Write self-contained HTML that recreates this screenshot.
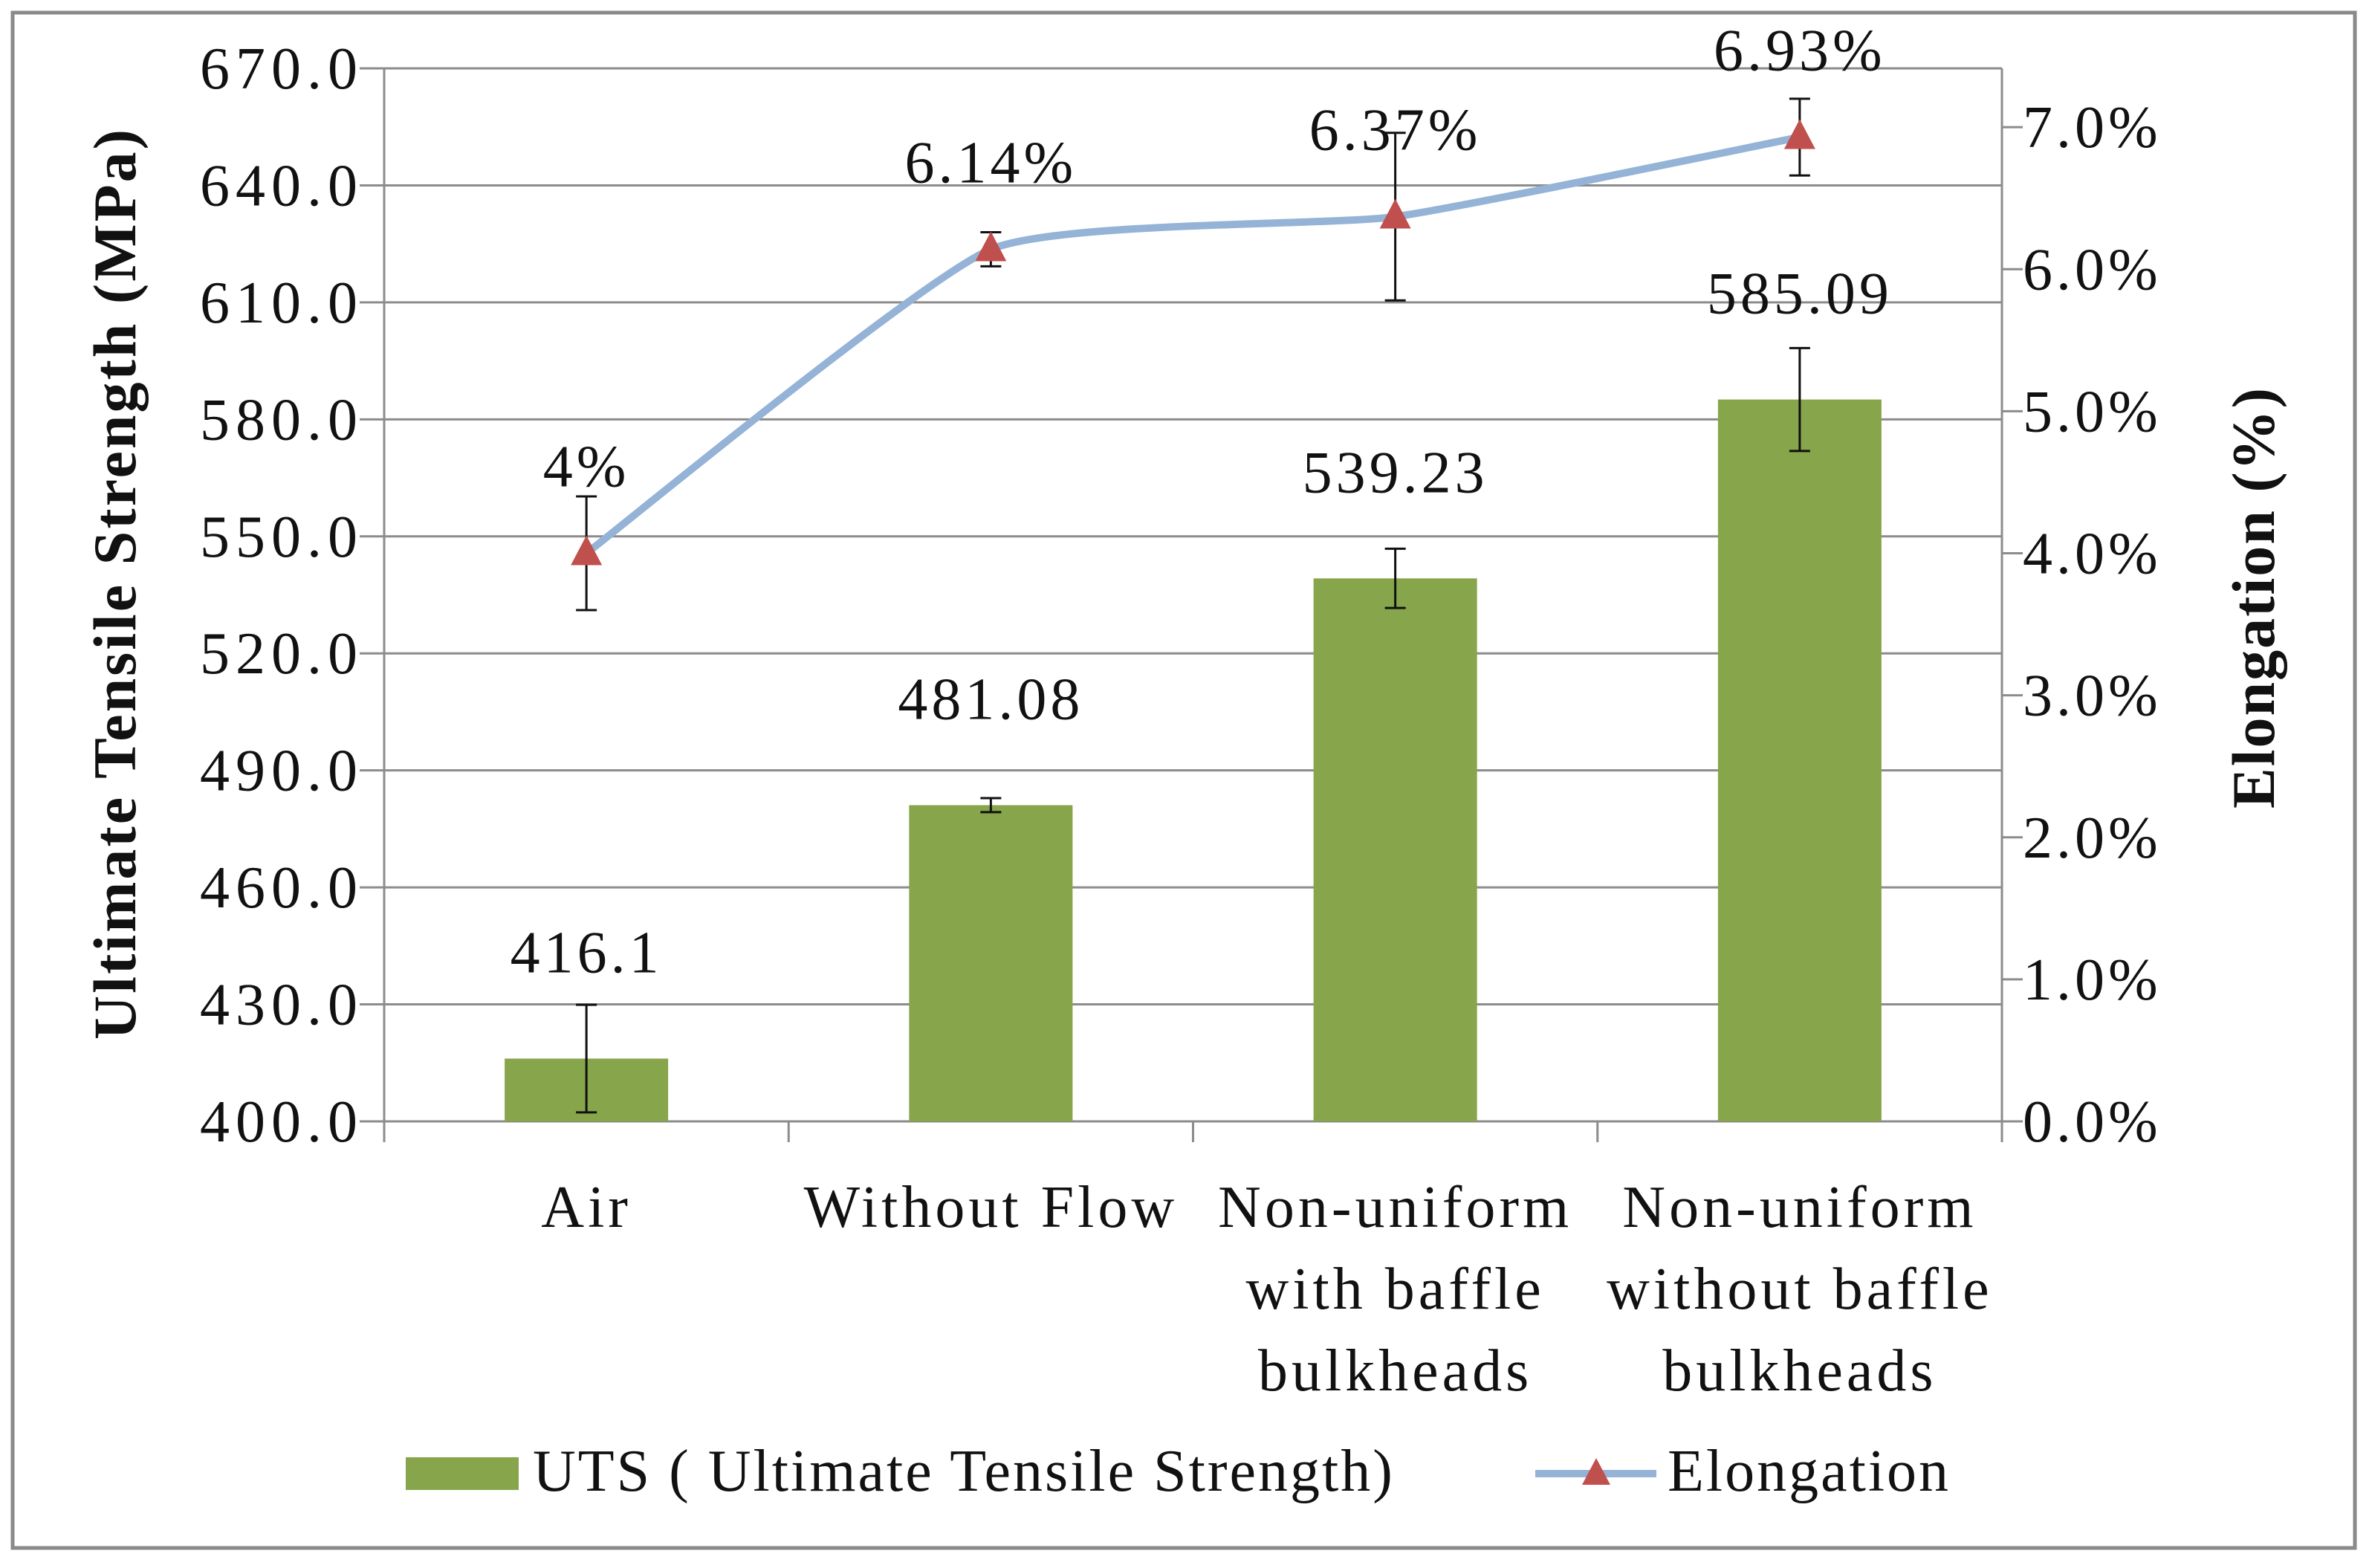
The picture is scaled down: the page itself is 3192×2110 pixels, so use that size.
<!DOCTYPE html>
<html><head><meta charset="utf-8">
<style>
html,body{margin:0;padding:0;background:#fff;}
svg{display:block;}
text{font-family:"Liberation Serif",serif;fill:#111;}
</style></head>
<body>
<svg id="chart" width="3192" height="2110" viewBox="0 0 3192 2110" xmlns="http://www.w3.org/2000/svg">
<rect x="17" y="17" width="3152" height="2066" fill="#fff" stroke="#8a8a8a" stroke-width="5"/>
<g id="grid"></g><g id="bars"></g><g id="line"></g><g id="axes"></g><g id="labels"></g>
<text x="0" y="0" transform="translate(182,785) rotate(-90)" text-anchor="middle" font-size="82" font-weight="bold" letter-spacing="3">Ultimate Tensile Strength (MPa)</text>
<text x="0" y="0" transform="translate(3060,804) rotate(-90)" text-anchor="middle" font-size="82" font-weight="bold" letter-spacing="2">Elongation (%)</text>
<g>
<rect x="546" y="1961" width="152" height="44" fill="#87A54A"/>
<text x="717" y="2006" font-size="80" letter-spacing="3">UTS ( Ultimate Tensile Strength)</text>
<line x1="2066" y1="1983" x2="2229" y2="1983" stroke="#95B3D7" stroke-width="10"/>
<polygon points="2148,1962 2167,1998 2129,1998" fill="#C0504D"/>
<text x="2244" y="2006" font-size="80" letter-spacing="3">Elongation</text>
</g>
</svg>
<script>
const categories=[["Air"],["Without Flow"],["Non-uniform","with baffle","bulkheads"],["Non-uniform","without baffle","bulkheads"]];
const utsValues=[416.1,481.08,539.23,585.09];
const utsErrors=[13.8,1.8,7.6,13.2];
const utsLabels=["416.1","481.08","539.23","585.09"];
const elongValues=[4.0,6.14,6.37,6.93];
const elongErrors=[0.4,0.12,0.59,0.27];
const elongLabels=["4%","6.14%","6.37%","6.93%"];
const leftTicks=[400,430,460,490,520,550,580,610,640,670];
const rightTicks=[0,1,2,3,4,5,6,7];

const NS="http://www.w3.org/2000/svg";
const X0=517,X1=2694,Y0=1509,Y1=92;
const FS=80,LS=5,TLS=8;
const yL=v=>Y0-(v-400)/(670-400)*(Y0-Y1);
const yR=v=>Y0-v/7.414*(Y0-Y1);
const band=(X1-X0)/categories.length;
const xC=i=>X0+band*(i+0.5);
function mk(tag,attrs,parent,txt){const e=document.createElementNS(NS,tag);for(const k in attrs)e.setAttribute(k,attrs[k]);if(txt!==undefined)e.textContent=txt;document.getElementById(parent).appendChild(e);return e;}

leftTicks.forEach((t,i)=>{
 const g=mk('line',{x1:484,x2:X1,y1:yL(t),y2:yL(t),stroke:'#8c8c8c','stroke-width':3},'grid');
 
 
 const l=mk('text',{x:489,y:yL(t)+27,'text-anchor':'end','font-size':FS,'letter-spacing':TLS},'labels',t.toFixed(1));
 
 
});
rightTicks.forEach(t=>{
 const m=mk('line',{x1:X1,x2:X1+28,y1:yR(t),y2:yR(t),stroke:'#8c8c8c','stroke-width':3},'axes');
 
 
 const l=mk('text',{x:2722,y:yR(t)+27,'font-size':FS,'letter-spacing':LS},'labels',t.toFixed(1)+'%');
 
 
});
const la=mk('line',{x1:X0,x2:X0,y1:Y1,y2:Y0+28,stroke:'#8c8c8c','stroke-width':3},'axes');


const ra=mk('line',{x1:X1,x2:X1,y1:Y1,y2:Y0+28,stroke:'#8c8c8c','stroke-width':3},'axes');


for(let i=1;i<categories.length;i++){
 const t=mk('line',{x1:X0+band*i,x2:X0+band*i,y1:Y0,y2:Y0+28,stroke:'#8c8c8c','stroke-width':3},'axes');
 
 
}
categories.forEach((c,i)=>{
 c.forEach((s,j)=>{
  const t=mk('text',{x:xC(i),y:1651+j*110,'text-anchor':'middle','font-size':FS,'letter-spacing':LS},'labels',s);
  
  
 });
});
function errbar(x,yt,yb,name){
 const g=mk('path',{d:`M${x},${yt}V${yb}M${x-14},${yt}H${x+14}M${x-14},${yb}H${x+14}`,stroke:'#111','stroke-width':3,fill:'none'},'line');
 
 
}
utsValues.forEach((v,i)=>{
 const bw=220;
 const b=mk('rect',{x:xC(i)-bw/2,y:yL(v),width:bw,height:Y0-yL(v),fill:'#87A54A'},'bars');
 
 
 errbar(xC(i),yL(v+utsErrors[i]),yL(v-utsErrors[i]),'uts-error-bar-'+i);
 const l=mk('text',{x:xC(i),y:yL(v)-116,'text-anchor':'middle','font-size':FS,'letter-spacing':LS},'labels',utsLabels[i]);
 
 
});
const pts=elongValues.map((v,i)=>[xC(i),yR(v)]);
let d=`M${pts[0][0]},${pts[0][1]}`;
for(let i=0;i<pts.length-1;i++){
 const p0=pts[Math.max(i-1,0)],p1=pts[i],p2=pts[i+1],p3=pts[Math.min(i+2,pts.length-1)];
 const k=1/12;
 d+=` C${p1[0]+(p2[0]-p0[0])*k},${p1[1]+(p2[1]-p0[1])*k} ${p2[0]-(p3[0]-p1[0])*k},${p2[1]-(p3[1]-p1[1])*k} ${p2[0]},${p2[1]}`;
}
const ln=mk('path',{d:d,stroke:'#95B3D7','stroke-width':10,fill:'none','stroke-linejoin':'round'},'line');


elongValues.forEach((v,i)=>{
 errbar(xC(i),yR(v+elongErrors[i]),yR(v-elongErrors[i]),'elongation-error-bar-'+i);
 const x=xC(i),y=yR(v);
 const m=mk('polygon',{points:`${x},${y-24} ${x+21},${y+16} ${x-21},${y+16}`,fill:'#C0504D'},'line');
 
 
 const l=mk('text',{x:x,y:y-90,'text-anchor':'middle','font-size':FS,'letter-spacing':LS},'labels',elongLabels[i]);
 
 
});
</script>
</body></html>
